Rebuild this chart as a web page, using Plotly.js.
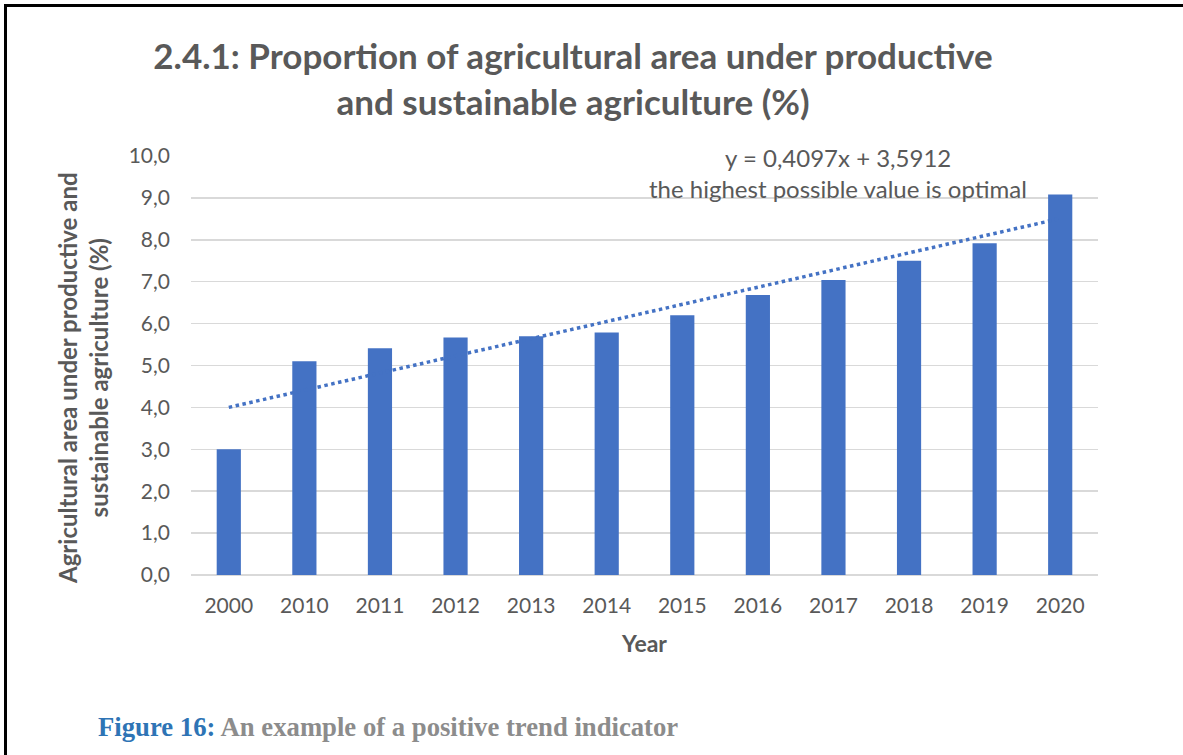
<!DOCTYPE html>
<html>
<head>
<meta charset="utf-8">
<script src="https://cdn.plot.ly/plotly-3.0.1.min.js"></script>
<style>
  html, body { margin: 0; padding: 0; background: #fff; }
  #frame { position: absolute; left: 0; top: 0; width: 1183px; height: 755px; overflow: hidden; }
  #bt { position: absolute; left: 4px; top: 4px; width: 1179px; height: 3px; background: #000; z-index: 5; }
  #bl { position: absolute; left: 4px; top: 4px; width: 3px; height: 751px; background: #000; z-index: 5; }
  #chart { position: absolute; left: 0; top: 0; width: 1183px; height: 755px; }
</style>
</head>
<body>
<div id="frame"><div id="bt"></div><div id="bl"></div><div id="chart"></div></div>
<script>
const years = ["2000", "2010", "2011", "2012", "2013", "2014", "2015", "2016", "2017", "2018", "2019", "2020"];
const values = [3.0, 5.1, 5.41, 5.67, 5.70, 5.79, 6.2, 6.68, 7.04, 7.5, 7.92, 9.08];
const trendSlope = 0.4097;
const trendIntercept = 3.5912;
const yTicks = [0, 1, 2, 3, 4, 5, 6, 7, 8, 9, 10];

const trendValues = years.map((y, i) => trendSlope * (i + 1) + trendIntercept);

const W = 1183, H = 755;
const L = 191, R = 85, T = 156, B = 180;
const pw = W - L - R, ph = H - T - B;
const px = x => (x - L) / pw;
const py = y => (H - B - y) / ph;

const grey = '#595959';
const font = 'Lato, "Open Sans", sans-serif';

const data = [
  { type: 'bar', x: years, y: values, marker: { color: '#4472C4' }, width: 0.32, hoverinfo: 'x+y' },
  { type: 'scatter', mode: 'lines', x: years, y: trendValues,
    line: { color: '#4472C4', width: 3.5, dash: 'dot' }, hoverinfo: 'skip' }
];

const layout = {
  width: W, height: H,
  margin: { l: L, r: R, t: T, b: B },
  paper_bgcolor: 'rgba(0,0,0,0)', plot_bgcolor: 'rgba(0,0,0,0)',
  showlegend: false,
  separators: ',.',
  font: { family: font, color: grey },
  title: {
    text: '2.4.1: Proportion of agricultural area under productive<br>and sustainable agriculture (%)',
    font: { family: font, size: 35, color: grey, weight: 'bold' },
    x: 573 / W, xanchor: 'center', xref: 'container',
    y: 1 - 69 / H, yanchor: 'middle', yref: 'container'
  },
  xaxis: {
    type: 'category',
    tickfont: { family: font, size: 21, color: grey },
    ticklabelstandoff: 16,
    showgrid: false, zeroline: false, showline: false, ticks: '',
    title: { text: '<b>Year</b>', font: { family: font, size: 23, color: grey }, standoff: 19 }
  },
  yaxis: {
    range: [0, 10], tickvals: yTicks, tickformat: '.1f',
    tickfont: { family: font, size: 21, color: grey },
    ticklabelstandoff: 20,
    gridcolor: '#D9D9D9', gridwidth: 1.5,
    zeroline: true, zerolinecolor: '#D9D9D9', zerolinewidth: 1.5,
    showline: false, ticks: '', ticklen: 0
  },
  annotations: [
    { text: '<b>Agricultural area under productive and<br>sustainable agriculture (%)</b>',
      xref: 'paper', yref: 'paper', x: px(83), y: py(378), textangle: -90,
      xanchor: 'center', yanchor: 'middle', showarrow: false, font: { family: font, size: 24, color: grey } },
    { text: 'y = 0,4097x + 3,5912', xref: 'paper', yref: 'paper', x: px(838), y: py(157),
      xanchor: 'center', yanchor: 'middle', showarrow: false, font: { family: font, size: 24, color: grey } },
    { text: 'the highest possible value is optimal', xref: 'paper', yref: 'paper', x: px(838), y: py(188),
      xanchor: 'center', yanchor: 'middle', showarrow: false, font: { family: font, size: 24, color: grey } },
    { text: '<b><span style="color:#2E74B5">Figure 16:</span> An example of a positive trend indicator</b>',
      xref: 'paper', yref: 'paper', x: px(96), y: py(727),
      xanchor: 'left', yanchor: 'middle', showarrow: false,
      font: { family: '"Liberation Serif", "Times New Roman", serif', size: 26.7, color: '#8C8C8C' } }
  ]
};

Plotly.newPlot('chart', data, layout, { displayModeBar: false, staticPlot: true });
</script>
</body>
</html>
